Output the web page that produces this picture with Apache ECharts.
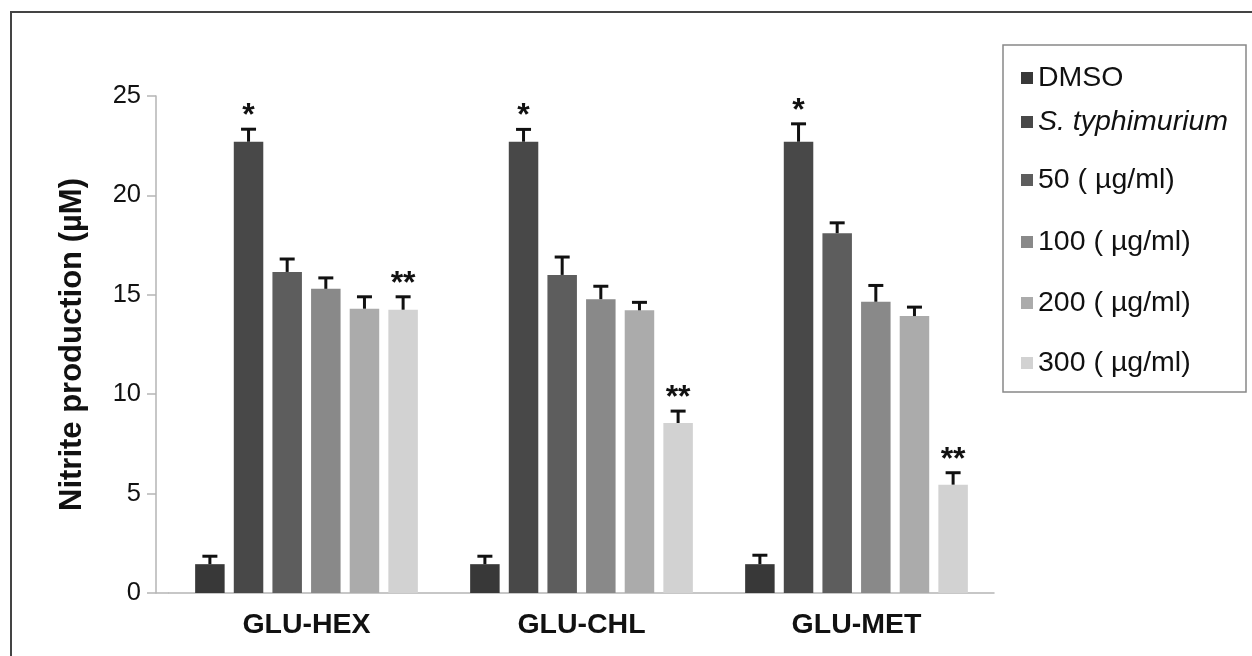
<!DOCTYPE html>
<html>
<head>
<meta charset="utf-8">
<script src="https://cdn.jsdelivr.net/npm/echarts@6/dist/echarts.min.js"></script>
<style>
html,body{margin:0;padding:0;background:#fff;}
#chart{width:1252px;height:656px;}
</style>
</head>
<body>
<div id="chart"></div>
<script>
const categories = ['GLU-HEX', 'GLU-CHL', 'GLU-MET'];
const seriesNames = ['DMSO', 'S. typhimurium', '50 ( µg/ml)', '100 ( µg/ml)', '200 ( µg/ml)', '300 ( µg/ml)'];
const dmsoValues = [1.45, 1.45, 1.45];
const dmsoErrors = [0.4, 0.4, 0.45];
const styphValues = [22.7, 22.7, 22.7];
const styphErrors = [0.63, 0.62, 0.9];
const c50Values = [16.15, 16.0, 18.1];
const c50Errors = [0.65, 0.9, 0.52];
const c100Values = [15.3, 14.78, 14.65];
const c100Errors = [0.55, 0.65, 0.82];
const c200Values = [14.3, 14.22, 13.93];
const c200Errors = [0.6, 0.4, 0.45];
const c300Values = [14.25, 8.55, 5.45];
const c300Errors = [0.65, 0.6, 0.6];
const dmsoMarks = ['', '', ''];
const styphMarks = ['*', '*', '*'];
const c50Marks = ['', '', ''];
const c100Marks = ['', '', ''];
const c200Marks = ['', '', ''];
const c300Marks = ['**', '**', '**'];
const yTicks = [0, 5, 10, 15, 20, 25];

const allValues = [dmsoValues, styphValues, c50Values, c100Values, c200Values, c300Values];
const allErrors = [dmsoErrors, styphErrors, c50Errors, c100Errors, c200Errors, c300Errors];
const allMarks = [dmsoMarks, styphMarks, c50Marks, c100Marks, c200Marks, c300Marks];
const colors = ['#383838', '#484848', '#5d5d5d', '#898989', '#ababab', '#d2d2d2'];

const BAR_W = 29.5;
const BAR_GAP = 0.31;
const FONT = "'Liberation Sans', Arial, sans-serif";

const series = [];
seriesNames.forEach((name, i) => {
  series.push({
    name: name,
    type: 'bar',
    barWidth: BAR_W,
    barGap: (BAR_GAP * 100) + '%',
    itemStyle: { color: colors[i] },
    data: allValues[i],
    z: 2
  });
});
seriesNames.forEach((name, i) => {
  const data = categories.map((c, k) => [k, allValues[i][k], allErrors[i][k], allMarks[i][k]]);
  series.push({
    type: 'custom',
    name: name + ' err',
    z: 5,
    silent: true,
    data: data,
    encode: { x: 0, y: 1 },
    renderItem: function (params, api) {
      const k = api.value(0);
      const v = api.value(1);
      const e = api.value(2);
      const mark = data[params.dataIndex][3];
      const base = api.coord([k, v]);
      const top = api.coord([k, v + e]);
      const step = BAR_W * (1 + BAR_GAP);
      const x = base[0] + (i - 2.5) * step;
      const capHalf = 7.5;
      const children = [
        { type: 'line', shape: { x1: x, y1: base[1], x2: x, y2: top[1] }, style: { stroke: '#111', lineWidth: 3 } },
        { type: 'line', shape: { x1: x - capHalf, y1: top[1], x2: x + capHalf, y2: top[1] }, style: { stroke: '#111', lineWidth: 3 } }
      ];
      if (mark) {
        children.push({
          type: 'text',
          style: {
            text: mark, x: x, y: top[1] + 3,
            align: 'center', verticalAlign: 'bottom',
            font: 'bold 32px ' + FONT, fill: '#111'
          }
        });
      }
      return { type: 'group', children: children };
    }
  });
});

const legendCenters = [78, 122, 180, 242, 303, 363];
const legends = seriesNames.map((name, i) => ({
  data: [name],
  left: 1021,
  top: legendCenters[i] - 15,
  padding: 0,
  itemWidth: 12,
  itemHeight: 12,
  icon: 'rect',
  selectedMode: false,
  textStyle: {
    fontFamily: FONT, fontSize: 28.5, color: '#111', lineHeight: 30,
    fontStyle: i === 1 ? 'italic' : 'normal'
  }
}));

const chart = echarts.init(document.getElementById('chart'));
chart.setOption({
  animation: false,
  backgroundColor: '#fff',
  grid: { left: 169, right: 258, top: 96, bottom: 63, containLabel: false },
  legend: legends,
  xAxis: {
    type: 'category',
    data: categories,
    axisLine: { lineStyle: { color: '#b5b5b5', width: 1.5 } },
    axisTick: { show: false },
    axisLabel: { fontFamily: FONT, fontSize: 28.5, fontWeight: 'bold', color: '#111', margin: 18 }
  },
  yAxis: {
    type: 'value',
    min: yTicks[0],
    max: yTicks[yTicks.length - 1],
    interval: yTicks[1] - yTicks[0],
    offset: 13,
    name: 'Nitrite production (µM)',
    nameLocation: 'middle',
    nameRotate: 90,
    nameGap: 68,
    nameTextStyle: { fontFamily: FONT, fontSize: 31, fontWeight: 'bold', color: '#111' },
    axisLine: { show: true, lineStyle: { color: '#b5b5b5', width: 1.5 } },
    axisTick: { show: true, inside: false, length: 9, lineStyle: { color: '#b5b5b5', width: 1.5 } },
    axisLabel: { fontFamily: FONT, fontSize: 25.5, color: '#111', margin: 15 },
    splitLine: { show: false }
  },
  graphic: [
    { type: 'rect', shape: { x: 11, y: 12, width: 1400, height: 800 }, style: { fill: 'none', stroke: '#444', lineWidth: 2 }, z: 10 },
    { type: 'rect', shape: { x: 1003, y: 45, width: 243, height: 347 }, style: { fill: 'none', stroke: '#888', lineWidth: 1.5 }, z: 10 },
    { type: 'line', shape: { x1: 156, y1: 593, x2: 169, y2: 593 }, style: { stroke: '#b5b5b5', lineWidth: 1.5 }, z: 10 }
  ],
  series: series
});
</script>
</body>
</html>
